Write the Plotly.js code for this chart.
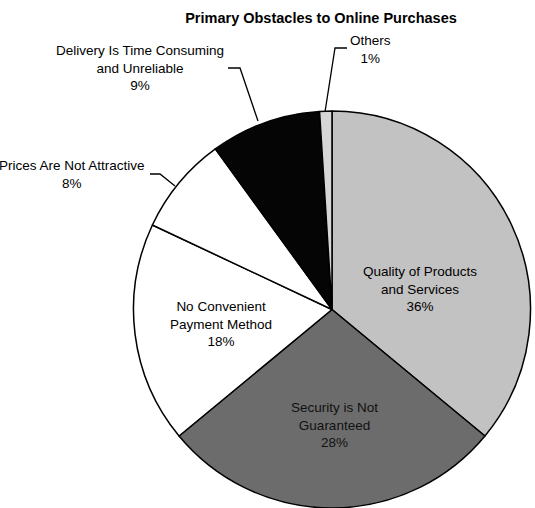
<!DOCTYPE html>
<html>
<head>
<meta charset="utf-8">
<script src="https://cdn.plot.ly/plotly-3.0.1.min.js"></script>
<style>html,body{margin:0;padding:0;background:#fff;}#chart{width:535px;height:508px;}</style>
</head>
<body>
<div id="chart"></div>
<script>
// Data
var categories = [
  "Quality of Products<br>and Services",
  "Security is Not<br>Guaranteed",
  "No Convenient<br>Payment Method",
  "Prices Are Not Attractive",
  "Delivery Is Time Consuming<br>and Unreliable",
  "Others"
];
var values = [36, 28, 18, 8, 9, 1];
var sliceColors = ["#c2c2c2", "#6c6c6c", "#ffffff", "#ffffff", "#050505", "#d6d6d6"];
var titleText = "Primary Obstacles to Online Purchases";

var W = 535, H = 508;
function px(x) { return x / W; }
function py(y) { return 1 - y / H; }

// label positions (pixels) - layout only
var labelPos = [
  [420, 289], [334, 425], [221, 324], [72, 174], [140, 68], [370, 49]
];
var labelColors = ["#000", "#111", "#000", "#000", "#000", "#000"];

var annotations = categories.map(function (c, i) {
  return {
    text: c + "<br>" + values[i] + "%",
    x: px(labelPos[i][0]), y: py(labelPos[i][1]),
    xref: "paper", yref: "paper",
    xanchor: "center", yanchor: "middle",
    showarrow: false, align: "center",
    font: { family: "Liberation Sans, Arial, sans-serif", size: 13.5, color: labelColors[i] }
  };
});

function path(pts) {
  return pts.map(function (p, i) { return (i ? "L" : "M") + px(p[0]) + "," + py(p[1]); }).join(" ");
}
var leaders = [
  [[150, 174], [160, 174], [175, 186]],
  [[228, 68], [240, 68], [258, 121]],
  [[347, 48], [335, 48], [325, 112]]
];
var shapes = leaders.map(function (l) {
  return { type: "path", xref: "paper", yref: "paper", path: path(l), line: { color: "#000", width: 1.3 } };
});

var trace = {
  type: "pie",
  labels: categories,
  values: values,
  sort: false,
  direction: "clockwise",
  rotation: 0,
  textinfo: "none",
  hoverinfo: "none",
  marker: { colors: sliceColors, line: { color: "#000", width: 1.5 } },
  domain: { x: [px(332 - 199), px(332 + 199)], y: [0, py(111)] },
  showlegend: false
};

var layout = {
  width: W, height: H,
  margin: { l: 0, r: 0, t: 0, b: 0 },
  paper_bgcolor: "#fff",
  title: {
    text: "<b>" + titleText + "</b>",
    x: px(321), xref: "paper", xanchor: "center",
    y: 1 - 18 / H, yref: "container", yanchor: "middle",
    font: { family: "Liberation Sans, Arial, sans-serif", size: 14.5, color: "#000" }
  },
  annotations: annotations,
  shapes: shapes,
  showlegend: false
};

Plotly.newPlot("chart", [trace], layout, { staticPlot: true, displayModeBar: false });
</script>
</body>
</html>
